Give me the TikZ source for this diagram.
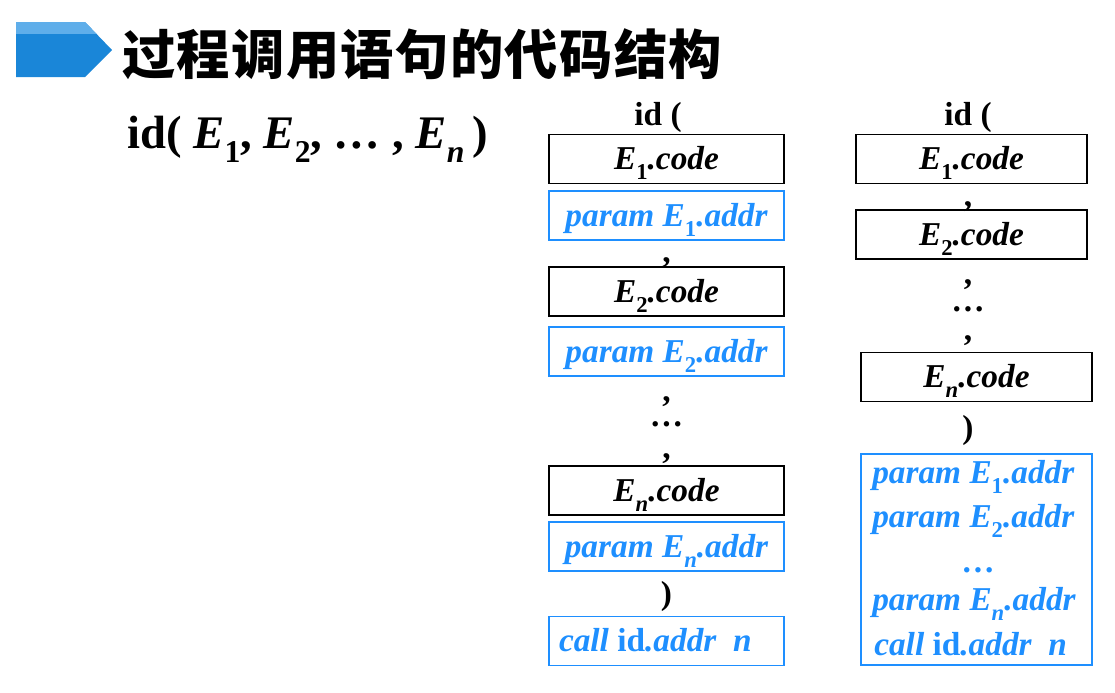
\documentclass[tikz,border=0pt]{standalone}
\usepackage{fontspec}
\setmainfont{Liberation Serif}
\newfontfamily\cjk{Noto Sans CJK SC}[BoldFont={Noto Sans CJK SC Black}]
\definecolor{pblue}{HTML}{1E8FFF}
\definecolor{abluel}{HTML}{1A86D8}
\definecolor{abluet}{HTML}{5FAEEA}
\newcommand{\sbu}[1]{\raisebox{-0.3em}{\scalebox{0.68}{\upshape #1}}}
\newcommand{\sbi}[1]{\raisebox{-0.3em}{\scalebox{0.68}{#1}}}
\begin{document}
\begin{tikzpicture}[x=0.75pt,y=-0.75pt,
  cbox/.style={draw=black, line width=1.1pt, minimum width=176.25pt, minimum height=36.5pt, inner sep=0pt,
    text height=26.25pt, text depth=10.25pt,
    font=\fontsize{25}{30}\selectfont\bfseries\itshape},
  bbox/.style={cbox, draw=pblue, text=pblue},
  rbox/.style={cbox, minimum width=173.25pt},
  lbl/.style={inner sep=0pt, anchor=base, font=\fontsize{25}{30}\selectfont\bfseries},
  bline/.style={inner sep=0pt, anchor=base west, text=pblue, font=\fontsize{25}{30}\selectfont\bfseries\itshape}]
\useasboundingbox (0,0) rectangle (1115,693);
% title arrow
\fill[abluel] (16,22) -- (85,22) -- (112,50) -- (85,77) -- (16,77) -- cycle;
\begin{scope}
\clip (16,22) -- (85,22) -- (112,50) -- (85,77) -- (16,77) -- cycle;
\fill[abluet] (16,22) rectangle (112,34);
\end{scope}
\node[inner sep=0pt, anchor=west, font=\cjk\bfseries\fontsize{40}{44}\selectfont] (title) at (122,54)
  {\makebox[450pt][s]{过\hfil 程\hfil 调\hfil 用\hfil 语\hfil 句\hfil 的\hfil 代\hfil 码\hfil 结\hfil 构}};
% call expression
\node[inner sep=0pt, anchor=base west, font=\fontsize{35}{40}\selectfont\bfseries] (expr) at (127,148)
  {id( \textit{E}\sbu{1}, \textit{E}\sbu{2}, \dots\ , \textit{E}\sbi{\textit{n}}\,)};
% left column
\node[lbl] (lid) at (658,125) {id (};
\node[cbox] (le1) at (666.5,159) {E\sbu{1}.code};
\node[bbox] (lp1) at (666.5,215.5) {param E\sbu{1}.addr};
\node[lbl] (lc1) at (666.5,262) {,};
\node[cbox] (le2) at (666.5,291.5) {E\sbu{2}.code};
\node[bbox] (lp2) at (666.5,351.5) {param E\sbu{2}.addr};
\node[lbl] (lc2) at (666.5,401) {,};
\node[lbl] (ld) at (666.5,426) {\dots};
\node[lbl] (lc3) at (666.5,458) {,};
\node[cbox] (len) at (666.5,490.5) {E\sbi{n}.code};
\node[bbox] (lpn) at (666.5,546.5) {param E\sbi{n}.addr};
\node[lbl] (lr) at (666.5,604) {)};
\node[bbox] (lcall) at (666.5,641) {\makebox[161.25pt][l]{call \textup{id}.addr~~n}};
% right column
\node[lbl] (rid) at (968,125) {id (};
\node[rbox] (re1) at (971.5,159) {E\sbu{1}.code};
\node[lbl] (rc1) at (968,206) {,};
\node[rbox] (re2) at (971.5,234.5) {E\sbu{2}.code};
\node[lbl] (rc2) at (968,284) {,};
\node[lbl] (rd) at (968,311) {\dots};
\node[lbl] (rc3) at (968,340) {,};
\node[rbox] (ren) at (976.5,377) {E\sbi{n}.code};
\node[lbl] (rr) at (968,438) {)};
\node[draw=pblue, line width=1.1pt, minimum width=173.25pt, minimum height=158.25pt, inner sep=0pt] (big) at (976.5,559.5) {};
\node[bline] (b1) at (872,483) {param E\sbu{1}.addr};
\node[bline] (b2) at (872,527) {param E\sbu{2}.addr};
\node[lbl, text=pblue] (bd) at (978,572) {\dots};
\node[bline] (b3) at (872,610) {param E\sbi{n}.addr};
\node[bline] (b4) at (874,655) {call \textup{id}.addr~~n};
\end{tikzpicture}
\end{document}
